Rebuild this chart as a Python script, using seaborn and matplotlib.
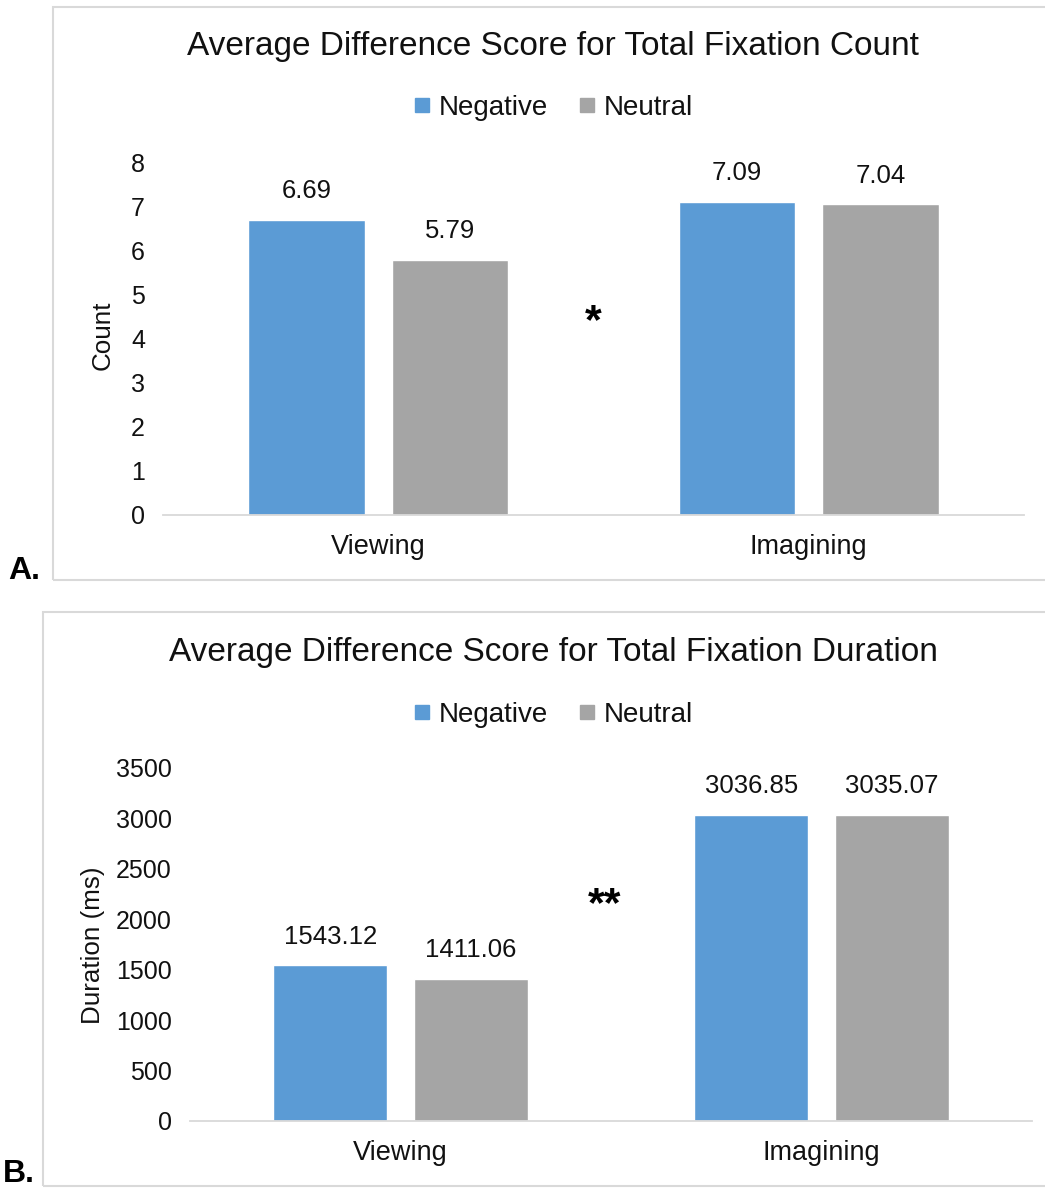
import matplotlib
matplotlib.use("Agg")
import matplotlib.pyplot as plt
import seaborn as sns
import pandas as pd
from matplotlib.lines import Line2D
from matplotlib.patches import Rectangle

conditions = ["Viewing", "Imagining"]
valences = ["Negative", "Neutral"]
count_negative = [6.69, 7.09]
count_neutral = [5.79, 7.04]
duration_negative = [1543.12, 3036.85]
duration_neutral = [1411.06, 3035.07]
count_ticks = [0, 1, 2, 3, 4, 5, 6, 7, 8]
duration_ticks = [0, 500, 1000, 1500, 2000, 2500, 3000, 3500]
colors = {"Negative": "#5B9BD5", "Neutral": "#A5A5A5"}

sns.set_theme(style="white")
plt.rcParams["font.family"] = ["Liberation Sans", "DejaVu Sans"]

W, H = 1045, 1188
fig = plt.figure(figsize=(W / 100, H / 100), dpi=100)


def px_axes(left, right, top, bottom):
    return fig.add_axes([left / W, 1 - bottom / H, (right - left) / W, (bottom - top) / H])


def make_df(neg, neu):
    rows = []
    for c, a, b in zip(conditions, neg, neu):
        rows.append({"Condition": c, "Valence": "Negative", "Value": a})
        rows.append({"Condition": c, "Valence": "Neutral", "Value": b})
    return pd.DataFrame(rows)


def draw(ax, df, ticks, fmt, ylabel, title, title_y, legend_y, star, star_xy, box, letter, letter_xy, label_x):
    sns.barplot(data=df, x="Condition", y="Value", hue="Valence", order=conditions,
                hue_order=valences, palette=colors, width=0.668, gap=0.19,
                saturation=1, ax=ax, legend=False, errorbar=None)
    ax.set_xlim(-0.5, 1.5)
    ax.set_ylim(ticks[0], ticks[-1])
    ax.set_yticks(ticks)
    ax.set_yticklabels([str(t) for t in ticks], fontsize=18, color="#111111")
    ax.tick_params(axis="y", length=0, pad=13)
    ax.tick_params(axis="x", length=0, pad=14, labelsize=19.5, labelcolor="#111111")
    for s in ["top", "right", "left"]:
        ax.spines[s].set_visible(False)
    ax.spines["bottom"].set_color("#d9d9d9")
    ax.spines["bottom"].set_linewidth(1.3)
    ax.set_xlabel("")
    ax.set_ylabel("")
    for cont in ax.containers:
        ax.bar_label(cont, labels=[fmt.format(v) for v in cont.datavalues],
                     padding=12, fontsize=18.5, color="#111111")
    fig.text(label_x[0] / W, 1 - label_x[1] / H, ylabel, rotation=90,
             ha="center", va="center", fontsize=18.7, color="#111111")
    fig.text(553 / W, 1 - title_y / H, title, ha="center", va="center",
             fontsize=24, color="#111111")
    handles = [Line2D([0], [0], marker="s", color="none", markerfacecolor=colors[v],
                      markeredgecolor=colors[v], markersize=10.5) for v in valences]
    fig.legend(handles, valences, loc="center", bbox_to_anchor=(553 / W, 1 - legend_y / H),
               ncol=2, frameon=False, fontsize=20, handlelength=0.6, handletextpad=0.3,
               columnspacing=1.1, labelcolor="#111111")
    fig.text(star_xy[0] / W, 1 - star_xy[1] / H, star, ha="center", va="center",
             fontsize=31, fontweight="bold", color="black")
    x0, y0, x1, y1 = box
    fig.patches.append(Rectangle((x0 / W, 1 - y1 / H), (x1 - x0) / W, (y1 - y0) / H,
                                 transform=fig.transFigure, fill=False,
                                 edgecolor="#d9d9d9", linewidth=1.5))
    fig.text(letter_xy[0] / W, 1 - letter_xy[1] / H, letter, ha="left", va="baseline",
             fontsize=23, fontweight="bold", color="black")


axA = px_axes(163, 1024, 162, 515)
draw(axA, make_df(count_negative, count_neutral), count_ticks, "{:.2f}", "Count",
     "Average Difference Score for Total Fixation Count", 47, 108, "*", (593, 322),
     (53, 7, 1050, 580), "A.", (8, 579), (103, 335))

axB = px_axes(190, 1032, 768, 1121)
draw(axB, make_df(duration_negative, duration_neutral), duration_ticks, "{:.2f}", "Duration (ms)",
     "Average Difference Score for Total Fixation Duration", 653, 715, "**", (605, 905),
     (43, 612, 1050, 1186), "B.", (3, 1182), (93, 945))

fig.savefig("out.png", dpi=100, facecolor="white")
